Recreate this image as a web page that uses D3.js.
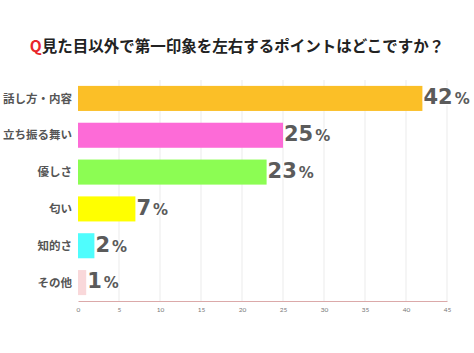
<!DOCTYPE html>
<html>
<head>
<meta charset="utf-8">
<script src="https://cdn.jsdelivr.net/npm/d3@7/dist/d3.min.js"></script>
<style>
  body { margin: 0; background: #fff; }
  text { font-family: "Noto Sans CJK JP", "Noto Sans", sans-serif; }
</style>
</head>
<body>
<div id="chart"></div>
<script>
const categories = ['話し方・内容', '立ち振る舞い', '優しさ', '匂い', '知的さ', 'その他'];
const values = [42, 25, 23, 7, 2, 1];
const colors = ['#fbbf27', '#fd6bd7', '#8cfd53', '#ffff00', '#4ffdfd', '#f9d8da'];
const ticks = [0, 5, 10, 15, 20, 25, 30, 35, 40, 45];

function drawChart() {
    const width = 474, height = 353;
    const svg = d3.select('#chart')
        .append('svg')
        .attr('width', width)
        .attr('height', height);

    const x = d3.scaleLinear().domain([0, 45]).range([78, 447]);
    const y = d3.scaleBand().domain(categories).range([80, 301]).paddingInner(0.32).paddingOuter(0.16);

    // title
    const title = svg.append('text')
        .attr('x', 237).attr('y', 52)
        .attr('text-anchor', 'middle')
        .style('font-size', '15.5px')
        .style('font-weight', 'bold')
        .attr('fill', '#222');
    title.append('tspan').attr('fill', '#e8262a').text('Q');
    title.append('tspan').text('見た目以外で第一印象を左右するポイントはどこですか？');

    // grid
    svg.append('g').selectAll('line')
        .data(ticks.slice(1))
        .enter().append('line')
        .attr('x1', d => x(d)).attr('x2', d => x(d))
        .attr('y1', 80).attr('y2', 301)
        .attr('stroke', '#ebebeb').attr('stroke-width', 1);

    // axis
    const axis = svg.append('g')
        .attr('transform', 'translate(0,301)')
        .call(d3.axisBottom(x).tickValues(ticks).tickSize(0).tickPadding(6));
    axis.select('.domain').attr('stroke', '#dba9a9');
    axis.selectAll('text').attr('fill', '#777').style('font-size', '6.5px')
        .style('font-family', 'Lato, sans-serif');

    // bars
    svg.append('g').selectAll('rect')
        .data(values)
        .enter().append('rect')
        .attr('x', x(0))
        .attr('y', (d, i) => y(categories[i]))
        .attr('width', d => x(d) - x(0))
        .attr('height', y.bandwidth())
        .attr('fill', (d, i) => colors[i]);

    // category labels
    svg.append('g').selectAll('text')
        .data(categories)
        .enter().append('text')
        .attr('x', 72)
        .attr('y', d => y(d) + y.bandwidth() / 2)
        .attr('dy', '0.36em')
        .attr('text-anchor', 'end')
        .style('font-size', '11.5px')
        .style('font-weight', 'bold')
        .attr('fill', '#555')
        .text(d => d);

    // value labels
    const lbl = svg.append('g').selectAll('text')
        .data(values)
        .enter().append('text')
        .attr('x', d => x(d) + 1)
        .attr('y', (d, i) => y(categories[i]) + y.bandwidth() / 2)
        .attr('dy', '0.36em')
        .attr('fill', '#5b5b5b')
        .attr('stroke', '#fff')
        .attr('stroke-width', 2.5)
        .attr('paint-order', 'stroke')
        .style('font-family', '"DejaVu Sans", sans-serif')
        .style('font-weight', 'bold');
    lbl.append('tspan').style('font-size', '21px').text(d => d);
    lbl.append('tspan').style('font-size', '15px').attr('dx', 2).text('%');
}

drawChart();
</script>
</body>
</html>
